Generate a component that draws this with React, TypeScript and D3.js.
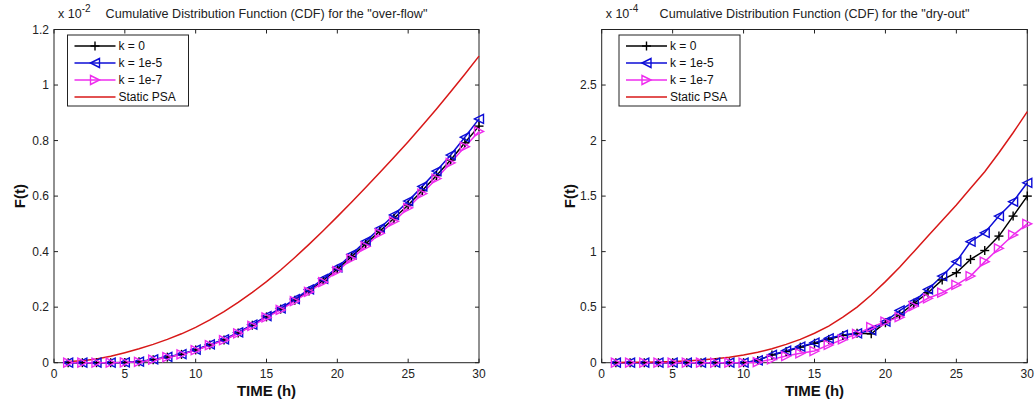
import React from "react";
import * as d3 from "d3";

const hours = [1, 2, 3, 4, 5, 6, 7, 8, 9, 10, 11, 12, 13, 14, 15, 16, 17, 18, 19, 20, 21, 22, 23, 24, 25, 26, 27, 28, 29, 30];
const staticHours = [0.7, 1, 2, 3, 4, 5, 6, 7, 8, 9, 10, 11, 12, 13, 14, 15, 16, 17, 18, 19, 20, 21, 22, 23, 24, 25, 26, 27, 28, 29, 30];

// Over-flow (x 1e-2)
const overflowK0 = [0, 0, 0, 0, 0.001, 0.003, 0.011, 0.02, 0.03, 0.046, 0.064, 0.082, 0.107, 0.135, 0.165, 0.193, 0.225, 0.258, 0.296, 0.337, 0.382, 0.428, 0.474, 0.52, 0.568, 0.62, 0.674, 0.73, 0.792, 0.852];
const overflowK1e5 = [0, 0, 0, 0, 0.001, 0.004, 0.012, 0.021, 0.031, 0.047, 0.066, 0.084, 0.109, 0.137, 0.168, 0.196, 0.229, 0.264, 0.302, 0.343, 0.39, 0.437, 0.484, 0.532, 0.582, 0.635, 0.69, 0.748, 0.812, 0.878];
const overflowK1e7 = [0, 0, 0, 0, 0.001, 0.003, 0.011, 0.02, 0.03, 0.045, 0.063, 0.081, 0.106, 0.133, 0.163, 0.19, 0.222, 0.255, 0.29, 0.33, 0.374, 0.419, 0.466, 0.509, 0.558, 0.609, 0.663, 0.72, 0.778, 0.833];
const overflowStatic = [0.003, 0.004, 0.007, 0.013, 0.023, 0.036, 0.05, 0.066, 0.084, 0.104, 0.127, 0.154, 0.184, 0.217, 0.253, 0.292, 0.334, 0.379, 0.426, 0.475, 0.526, 0.578, 0.631, 0.685, 0.74, 0.796, 0.854, 0.914, 0.976, 1.039, 1.104];

// Dry-out (x 1e-4)
const dryoutK0 = [0, 0, 0, 0, 0, 0, 0, 0, 0, 0, 0.02, 0.07, 0.1, 0.14, 0.175, 0.21, 0.245, 0.265, 0.26, 0.36, 0.43, 0.535, 0.63, 0.745, 0.81, 0.93, 1.01, 1.14, 1.32, 1.5];
const dryoutK1e5 = [0, 0, 0, 0, 0, 0, 0, 0, 0, 0, 0.02, 0.07, 0.108, 0.144, 0.18, 0.22, 0.25, 0.265, 0.29, 0.37, 0.47, 0.55, 0.66, 0.78, 0.91, 1.09, 1.17, 1.32, 1.45, 1.62];
const dryoutK1e7 = [0, 0, 0, 0, 0, 0, 0, 0, 0, 0, 0.005, 0.03, 0.06, 0.085, 0.105, 0.16, 0.21, 0.26, 0.32, 0.37, 0.41, 0.51, 0.58, 0.63, 0.7, 0.78, 0.91, 1.03, 1.15, 1.25];
const dryoutStatic = [0.002, 0.002, 0.003, 0.005, 0.007, 0.01, 0.016, 0.024, 0.035, 0.05, 0.07, 0.095, 0.125, 0.165, 0.21, 0.265, 0.33, 0.41, 0.5, 0.61, 0.73, 0.86, 1.0, 1.14, 1.28, 1.42, 1.57, 1.72, 1.89, 2.07, 2.26];

const xTicks = [0, 5, 10, 15, 20, 25, 30];
const overflowYTicks = [0, 0.2, 0.4, 0.6, 0.8, 1, 1.2];
const dryoutYTicks = [0, 0.5, 1, 1.5, 2, 2.5, 3];
const dryoutYLabels = ["0", "0.5", "1", "1.5", "2", "2.5", ""];
const overflowYLabels = ["0", "0.2", "0.4", "0.6", "0.8", "1", "1.2"];
const legendLabels = ["k = 0", "k = 1e-5", "k = 1e-7", "Static PSA"];

const FONT = "'Liberation Sans', Arial, Helvetica, sans-serif";
const C_BLACK = "#000000";
const C_BLUE = "#0c0cd6";
const C_MAG = "#ee2cee";
const C_RED = "#d81818";

type Marker = "plus" | "left" | "right" | "none";

function MarkerShape({ kind, x, y, color }: { kind: Marker; x: number; y: number; color: string }) {
  const s = 4.5;
  if (kind === "plus") {
    return (
      <g stroke={color} strokeWidth={1.4}>
        <line x1={x - s} y1={y} x2={x + s} y2={y} />
        <line x1={x} y1={y - s} x2={x} y2={y + s} />
      </g>
    );
  }
  if (kind === "left") {
    const pts = `${x - s},${y} ${x + s},${y - s} ${x + s},${y + s}`;
    return <polygon points={pts} fill="none" stroke={color} strokeWidth={1.4} />;
  }
  if (kind === "right") {
    const pts = `${x + s},${y} ${x - s},${y - s} ${x - s},${y + s}`;
    return <polygon points={pts} fill="none" stroke={color} strokeWidth={1.4} />;
  }
  return null;
}

type Series = { xs: number[]; ys: number[]; color: string; marker: Marker; width: number };

function Panel(props: {
  x0: number;
  x1: number;
  yMax: number;
  yTicks: number[];
  yLabels: string[];
  series: Series[];
  title: string;
  exponent: string;
  legendX: number;
  yLabelX: number;
}) {
  const top = 29.5;
  const bottom = 362.7;
  const { x0, x1, yMax, yTicks, yLabels, series, title, exponent, legendX, yLabelX } = props;
  const x = d3.scaleLinear().domain([0, 30]).range([x0, x1]);
  const y = d3.scaleLinear().domain([0, yMax]).range([bottom, top]);
  const line = d3
    .line<[number, number]>()
    .x((d) => x(d[0]))
    .y((d) => y(d[1]));
  const tl = 4;
  const cx = (x0 + x1) / 2;
  const legendW = 121;
  const legendTop = 35;
  const rowH = 17;
  return (
    <g fontFamily={FONT}>
      <rect x={x0} y={top} width={x1 - x0} height={bottom - top} fill="#fff" stroke="#222" strokeWidth={1} />
      {xTicks.map((t) => (
        <g key={"xt" + t}>
          <line x1={x(t)} x2={x(t)} y1={bottom} y2={bottom - tl} stroke="#222" />
          <line x1={x(t)} x2={x(t)} y1={top} y2={top + tl} stroke="#222" />
          <text x={x(t)} y={378} fontSize={12} textAnchor="middle" fill="#222">
            {t}
          </text>
        </g>
      ))}
      {yTicks.map((t, i) => (
        <g key={"yt" + t}>
          <line x1={x0} x2={x0 + tl} y1={y(t)} y2={y(t)} stroke="#222" />
          <line x1={x1} x2={x1 - tl} y1={y(t)} y2={y(t)} stroke="#222" />
          <text x={x0 - 5} y={y(t) + 4} fontSize={12} textAnchor="end" fill="#222">
            {yLabels[i]}
          </text>
        </g>
      ))}
      <g>
        {series.map((s, i) => (
          <path
            key={"l" + i}
            d={line(s.xs.map((v, j) => [v, s.ys[j]] as [number, number])) || ""}
            fill="none"
            stroke={s.color}
            strokeWidth={s.width}
          />
        ))}
        {series.map((s, i) =>
          s.marker === "none"
            ? null
            : s.xs.map((v, j) => (
                <MarkerShape key={"m" + i + "-" + j} kind={s.marker} x={x(v)} y={y(s.ys[j])} color={s.color} />
              ))
        )}
      </g>
      <text x={x0 + 4} y={18} fontSize={12.5} fill="#222">
        x 10
        <tspan dy={-6} fontSize={10}>
          {exponent}
        </tspan>
      </text>
      <text x={cx} y={18} fontSize={12.6} textAnchor="middle" fill="#222">
        {title}
      </text>
      <text x={cx} y={396} fontSize={15} fontWeight="bold" textAnchor="middle" fill="#111">
        TIME (h)
      </text>
      <text
        transform={`translate(${yLabelX},${(top + bottom) / 2}) rotate(-90)`}
        fontSize={15}
        fontWeight="bold"
        textAnchor="middle"
        fill="#111"
      >
        F(t)
      </text>
      <rect x={legendX} y={legendTop} width={legendW} height={rowH * 4 + 3} fill="#fff" stroke="#222" strokeWidth={1} />
      {series.map((s, i) => {
        const ry = legendTop + 11 + i * rowH;
        const lx0 = legendX + 7;
        const lx1 = legendX + 48;
        return (
          <g key={"lg" + i}>
            <line x1={lx0} x2={lx1} y1={ry} y2={ry} stroke={s.color} strokeWidth={s.width} />
            {s.marker !== "none" && <MarkerShape kind={s.marker} x={(lx0 + lx1) / 2} y={ry} color={s.color} />}
            <text x={lx1 + 3} y={ry + 4} fontSize={12} fill="#111">
              {legendLabels[i]}
            </text>
          </g>
        );
      })}
    </g>
  );
}

export default function App() {
  const overflowSeries: Series[] = [
    { xs: hours, ys: overflowK0, color: C_BLACK, marker: "plus", width: 1.5 },
    { xs: hours, ys: overflowK1e5, color: C_BLUE, marker: "left", width: 1.5 },
    { xs: hours, ys: overflowK1e7, color: C_MAG, marker: "right", width: 1.5 },
    { xs: staticHours, ys: overflowStatic, color: C_RED, marker: "none", width: 1.5 },
  ];
  const dryoutSeries: Series[] = [
    { xs: hours, ys: dryoutK0, color: C_BLACK, marker: "plus", width: 1.5 },
    { xs: hours, ys: dryoutK1e5, color: C_BLUE, marker: "left", width: 1.5 },
    { xs: hours, ys: dryoutK1e7, color: C_MAG, marker: "right", width: 1.5 },
    { xs: staticHours, ys: dryoutStatic, color: C_RED, marker: "none", width: 1.5 },
  ];
  return (
    <svg width={1035} height={404} style={{ position: "absolute", left: 0, top: 0, background: "#fff" }}>
      <rect x={0} y={0} width={1035} height={404} fill="#fff" />
      <Panel
        x0={54}
        x1={479}
        yMax={1.2}
        yTicks={overflowYTicks}
        yLabels={overflowYLabels}
        series={overflowSeries}
        title={'Cumulative Distribution Function (CDF) for the "over-flow"'}
        exponent="-2"
        legendX={67.5}
        yLabelX={25}
      />
      <Panel
        x0={601.7}
        x1={1027.3}
        yMax={3}
        yTicks={dryoutYTicks}
        yLabels={dryoutYLabels}
        series={dryoutSeries}
        title={'Cumulative Distribution Function (CDF) for the "dry-out"'}
        exponent="-4"
        legendX={619}
        yLabelX={575}
      />
    </svg>
  );
}
